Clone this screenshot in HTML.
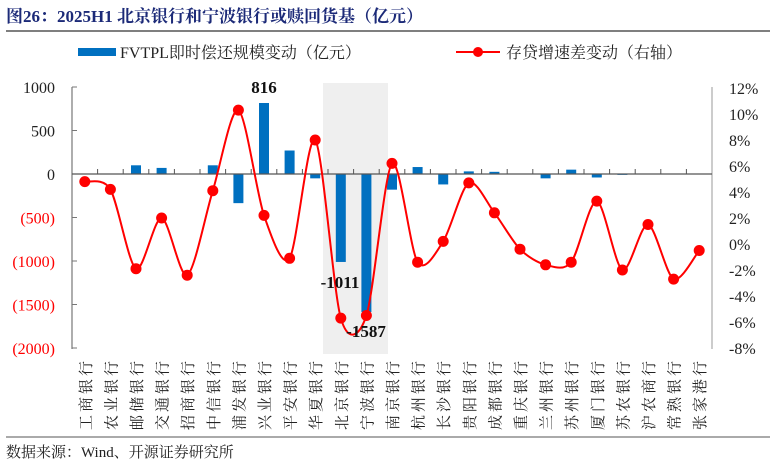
<!DOCTYPE html>
<html><head><meta charset="utf-8"><style>
body{margin:0;background:#fff;width:774px;height:464px;overflow:hidden}
svg text{font-family:"Liberation Serif","Noto Serif CJK SC",serif}
</style></head><body>
<svg id="s" width="774" height="464" xmlns="http://www.w3.org/2000/svg">
<text x="6" y="22" font-size="17" font-weight="bold" fill="#1c2a78">图26：2025H1 北京银行和宁波银行或赎回货基（亿元）</text>
<line x1="6" y1="31" x2="770" y2="31" stroke="#555" stroke-width="1.5"/>
<rect x="78" y="48" width="38" height="8" fill="#0070c0"/>
<text x="120" y="58" font-size="16" fill="#222">FVTPL即时偿还规模变动（亿元）</text>
<line x1="456" y1="52" x2="500" y2="52" stroke="#ff0000" stroke-width="2"/>
<circle cx="478" cy="52" r="5" fill="#ff0000"/>
<text x="506" y="58" font-size="16" fill="#222">存贷增速差变动（右轴）</text>
<rect x="323" y="83" width="65" height="271" fill="#efefef"/>
<g id="g"></g>
<line x1="6" y1="437" x2="770" y2="437" stroke="#555" stroke-width="1"/>
<text x="6" y="457" font-size="15" fill="#222">数据来源：Wind、开源证券研究所</text>
</svg>
<script>
var s=document.getElementById('g'),h='';
var names=['工商银行','农业银行','邮储银行','交通银行','招商银行','中信银行','浦发银行','兴业银行','平安银行','华夏银行','北京银行','宁波银行','南京银行','杭州银行','长沙银行','贵阳银行','成都银行','重庆银行','兰州银行','苏州银行','厦门银行','苏农银行','沪农商行','常熟银行','张家港行'];
var bars=[0,0,100,70,0,100,-335,816,270,-50,-1011,-1587,-180,80,-120,30,25,0,-50,50,-40,-10,0,0,0];
var line=[4.8,4.2,-1.9,2.0,-2.4,4.1,10.3,2.2,-1.1,8.0,-5.7,-5.5,6.2,-1.4,0.2,4.7,2.4,-0.4,-1.6,-1.4,3.3,-2.0,1.5,-2.7,-0.5];
var x0=72,st=25.6,y0=174,k=0.087;
function yl(v){return y0-v*k} function yr(v){return 244-v*13}
h+='<line x1="72" y1="87" x2="72" y2="349" stroke="#777" stroke-width="1.2"/>';
h+='<line x1="712" y1="87" x2="712" y2="349" stroke="#999" stroke-width="1"/>';
[1000,500,0,-500,-1000,-1500,-2000].forEach(function(v){var y=yl(v);
h+='<line x1="72" y1="'+y+'" x2="77" y2="'+y+'" stroke="#777"/>';
var t=v<0?'('+(-v)+')':v;h+='<text x="55" y="'+(y+6)+'" font-size="16" text-anchor="end" fill="'+(v<0?'#ff0000':'#222')+'">'+t+'</text>';});
for(var p=12;p>=-8;p-=2){h+='<text x="729" y="'+(yr(p)+6)+'" font-size="16" fill="#222">'+p+'%</text>';}
for(var i=0;i<25;i++){var c=x0+st*(i+0.5),v=bars[i];
if(v!=0){var y=Math.min(yl(v),y0),hh=Math.abs(v*k);h+='<rect x="'+(c-5)+'" y="'+y+'" width="10" height="'+hh+'" fill="#0070c0"/>';}
h+='<text transform="translate('+(c+6)+',358) rotate(-90)" font-size="15" letter-spacing="3" text-anchor="end" fill="#222">'+names[i]+'</text>';}
for(var i=1;i<25;i++){var x=x0+st*i;h+='<line x1="'+x+'" y1="'+y0+'" x2="'+x+'" y2="'+(y0-5)+'" stroke="#555"/>';}
h+='<line x1="72" y1="'+y0+'" x2="712" y2="'+y0+'" stroke="#555" stroke-width="1.2"/>';
var P=line.map(function(v,i){return [x0+st*(i+0.5),yr(v)]});
var d='M'+P[0][0]+','+P[0][1];
for(var i=0;i<P.length-1;i++){var p0=P[Math.max(i-1,0)],p1=P[i],p2=P[i+1],p3=P[Math.min(i+2,P.length-1)],t=7;
d+=' C'+(p1[0]+(p2[0]-p0[0])/t)+','+(p1[1]+(p2[1]-p0[1])/t)+' '+(p2[0]-(p3[0]-p1[0])/t)+','+(p2[1]-(p3[1]-p1[1])/t)+' '+p2[0]+','+p2[1];}
h+='<path d="'+d+'" fill="none" stroke="#ff0000" stroke-width="2"/>';
P.forEach(function(p){h+='<circle cx="'+p[0]+'" cy="'+p[1]+'" r="5.5" fill="#ff0000"/>';});
h+='<text x="264" y="93" font-size="17" font-weight="bold" text-anchor="middle" fill="#111">816</text>';
h+='<text x="340" y="288" font-size="17" font-weight="bold" text-anchor="middle" fill="#111">-1011</text>';
h+='<text x="366" y="337" font-size="17" font-weight="bold" text-anchor="middle" fill="#111">-1587</text>';
s.innerHTML=h;
</script>
</body></html>
